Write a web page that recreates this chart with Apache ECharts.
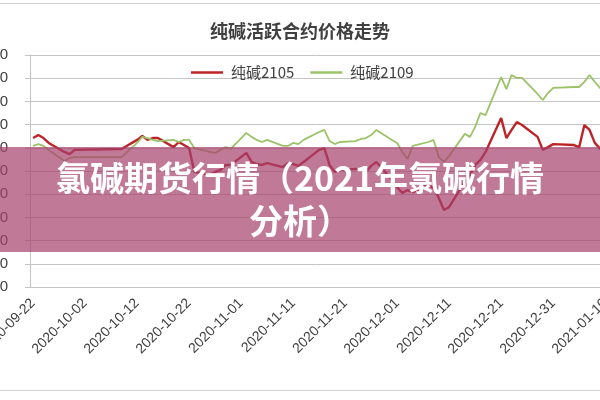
<!DOCTYPE html>
<html>
<head>
<meta charset="utf-8">
<script src="https://cdn.jsdelivr.net/npm/echarts@6/dist/echarts.min.js"></script>
<style>
  html, body { margin: 0; padding: 0; background: #fff; }
  #chart { width: 600px; height: 400px; }
</style>
</head>
<body>
<div id="chart"></div>
<script>
// trading days (exchange closed on weekends and Oct 1-8, Jan 1)
const startDate = [2020, 8, 22]; // 2020-09-22 = day 0
const sepDays = [22, 23, 24, 25, 28, 29, 30];
const octDays = [9, 12, 13, 14, 15, 16, 19, 20, 21, 22, 23, 26, 27, 28, 29, 30];
const novDays = [2, 3, 4, 5, 6, 9, 10, 11, 12, 13, 16, 17, 18, 19, 20, 23, 24, 25, 26, 27, 30];
const decDays = [1, 2, 3, 4, 7, 8, 9, 10, 11, 14, 15, 16, 17, 18, 21, 22, 23, 24, 25, 28, 29, 30, 31];
const janDays = [4, 5, 6, 7, 8, 11];

// 纯碱2105
const sa2105 = [
  1642, 1655, 1642, 1621, 1582, 1573, 1591,
  1595, 1634, 1651, 1634, 1642, 1642, 1603, 1625, 1612, 1599, 1496, 1483, 1496, 1504, 1526, 1526,
  1578, 1539, 1530, 1526, 1534, 1517, 1534, 1530, 1522, 1539, 1591, 1599, 1526, 1496, 1504, 1509, 1504, 1496, 1522, 1539, 1461,
  1430, 1405, 1418, 1409, 1440, 1427, 1384, 1332, 1345, 1453, 1483, 1526, 1547, 1582, 1728, 1642, 1677, 1711, 1698, 1647, 1591, 1603, 1616,
  1612, 1603, 1698, 1677, 1621, 1547
];
// 纯碱2109
const sa2109 = [
  1608, 1616, 1608, 1591, 1543, 1556, 1560,
  1560, 1621, 1647, 1642, 1634, 1629, 1634, 1625, 1634, 1634, 1599, 1582, 1578, 1591, 1603, 1595,
  1664, 1647, 1634, 1625, 1634, 1608, 1608, 1621, 1616, 1634, 1668, 1677, 1629, 1616, 1625, 1629, 1638, 1642, 1655, 1677, 1634,
  1621, 1582, 1552, 1608, 1625, 1634, 1560, 1539, 1565, 1660, 1647, 1690, 1750, 1741, 1905, 1853, 1914, 1901, 1901, 1832, 1806, 1836, 1858,
  1862, 1862, 1884, 1914, 1884, 1806
];

const labelDays = [0, 10, 20, 30, 40, 50, 60, 70, 80, 90, 100, 110];

const DAY = 86400000;
const t0 = Date.UTC(startDate[0], startDate[1], startDate[2]);
const dayIndex = [];
[[2020, 8, sepDays], [2020, 9, octDays], [2020, 10, novDays], [2020, 11, decDays], [2021, 0, janDays]]
  .forEach(([y, m, days]) => days.forEach(d => dayIndex.push(Math.round((Date.UTC(y, m, d) - t0) / DAY))));

function fmtDay(v) {
  const d = new Date(t0 + v * DAY);
  const p = n => (n < 10 ? '0' : '') + n;
  return d.getUTCFullYear() + '-' + p(d.getUTCMonth() + 1) + '-' + p(d.getUTCDate());
}

const chart = echarts.init(document.getElementById('chart'));
const gray = '#c4c4c4';
const cjk = '"Noto Sans CJK SC", sans-serif';

chart.setOption({
  animation: false,
  title: {
    text: '纯碱活跃合约价格走势',
    left: 'center',
    top: 17,
    textStyle: { fontSize: 18, fontWeight: 'bold', color: '#404040', fontFamily: cjk }
  },
  legend: {
    left: 186,
    top: 60,
    icon: 'rect',
    itemWidth: 32,
    itemHeight: 2.5,
    itemGap: 16,
    textStyle: { fontSize: 15, color: '#404040', fontFamily: cjk, padding: [0, 0, 0, 3] },
    data: ['纯碱2105', '纯碱2109']
  },
  grid: { left: 30, right: -26, top: 55, bottom: 113, containLabel: false, outerBoundsMode: 'none' },
  xAxis: {
    type: 'value',
    min: -0.6,
    max: 114,
    axisLine: { onZero: false, lineStyle: { color: gray } },
    axisTick: { show: false },
    splitLine: { show: false },
    axisLabel: {
      customValues: labelDays,
      rotate: 45,
      margin: 14,
      fontSize: 14,
      color: '#404040',
      fontFamily: 'Liberation Sans, sans-serif',
      formatter: fmtDay
    }
  },
  yAxis: {
    type: 'value',
    min: 1000,
    max: 2000,
    interval: 100,
    axisLine: { show: true, onZero: false, lineStyle: { color: gray } },
    axisTick: { show: true, length: 5, lineStyle: { color: gray } },
    splitLine: { lineStyle: { color: gray, width: 1 } },
    axisLabel: {
      margin: 22, fontSize: 15, color: '#404040', fontFamily: 'Liberation Sans, sans-serif',
      formatter: v => String(v)
    }
  },
  series: [
    {
      name: '纯碱2105',
      type: 'line',
      symbol: 'none',
      lineStyle: { color: '#bd2428', width: 2.4 },
      itemStyle: { color: '#bd2428' },
      data: dayIndex.map((d, i) => [d, sa2105[i]])
    },
    {
      name: '纯碱2109',
      type: 'line',
      symbol: 'none',
      lineStyle: { color: '#9cc36a', width: 1.8 },
      itemStyle: { color: '#9cc36a' },
      data: dayIndex.map((d, i) => [d, sa2109[i]])
    }
  ],
  graphic: [
    { type: 'line', z: 90, shape: { x1: 0, y1: 3.5, x2: 600, y2: 3.5 }, style: { stroke: '#d0d0d0', lineWidth: 1 } },
    { type: 'line', z: 90, shape: { x1: 0, y1: 390.5, x2: 600, y2: 390.5 }, style: { stroke: '#d0d0d0', lineWidth: 1 } },
    { type: 'rect', z: 100, shape: { x: 0, y: 147, width: 600, height: 105 }, style: { fill: 'rgba(166,64,108,0.7)' } },
    {
      type: 'text', z: 101, x: 300, y: 200,
      style: {
        text: '氯碱期货行情（2021年氯碱行情\n分析）',
        fill: '#ffffff',
        fontSize: 34,
        fontWeight: 'bold',
        fontFamily: cjk,
        lineHeight: 43,
        align: 'center',
        verticalAlign: 'middle'
      }
    }
  ]
});
</script>
</body>
</html>
